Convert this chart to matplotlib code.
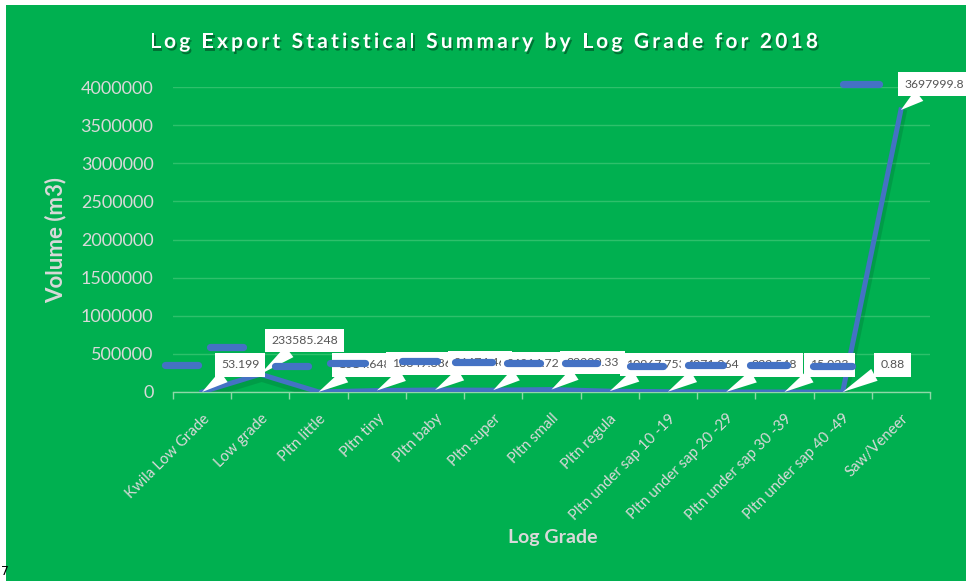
import matplotlib
matplotlib.use("Agg")
import matplotlib.pyplot as plt
import numpy as np
from matplotlib import patheffects, font_manager, ft2font
from matplotlib.lines import Line2D
from matplotlib.patches import Rectangle

# ---------------- data ----------------
categories = ["Kwila Low Grade", "Low grade", "Pltn little", "Pltn tiny", "Pltn baby",
              "Pltn super", "Pltn small", "Pltn regula", "Pltn under sap 10 -19",
              "Pltn under sap 20 -29", "Pltn under sap 30 -39", "Pltn under sap 40 -49",
              "Saw/Veneer"]
volumes = [53.199, 233585.248, 1014.648, 18849.886, 26474.46, 24014.72, 32290.33,
           10967.753, 4071.064, 932.548, 15.023, 0.88, 3697999.8]
label_texts = ["53.199", "233585.248", "1014.648", "18849.886", "26474.46", "24014.72",
               "32290.33", "10967.753", "4071.064", "932.548", "15.023", "0.88", "3697999.8"]
y_ticks = [0, 500000, 1000000, 1500000, 2000000, 2500000, 3000000, 3500000, 4000000]

title = "Log Export Statistical Summary by Log Grade for 2018"
x_title = "Log Grade"
y_title = "Volume (m3)"

# ---------------- style / layout ----------------
W, H, DPI = 966, 581, 100
GREEN = "#00B050"
BLUE = "#4472C4"
LIGHT = "#D9D9D9"
FONT = "Lato"

# label offsets (pixels, text centre relative to point)
label_offsets = [(38, 27), (44, 34), (46, 27), (45, 27), (45, 27), (40, 27), (41, 27),
                 (46, 27), (45, 27), (48, 27), (45, 27), (50, 27), (33, 26)]
# redaction dashes (figure pixels from top-left): x0, x1, y
dashes_px = [(165, 198, 365), (210, 243, 347), (275, 308, 366), (330, 365, 363),
             (402, 437, 361), (455, 492, 362), (507, 540, 363), (565, 597, 363),
             (630, 663, 366), (688, 723, 365), (750, 787, 365), (813, 852, 366),
             (843, 879, 84)]

plt.rcParams['font.family'] = [FONT, 'DejaVu Sans']

fig = plt.figure(figsize=(W / DPI, H / DPI), dpi=DPI, facecolor="white")
fig.patches.append(Rectangle((6 / W, 0), 1, 576 / H, transform=fig.transFigure,
                             facecolor=GREEN, edgecolor="none", zorder=-10))

ax = fig.add_axes([173 / W, 189 / H, (930 - 173) / W, 305 / H])
ax.set_facecolor("none")

x = np.arange(len(categories))
ax.plot(x, volumes, color=BLUE, lw=3.6, solid_joinstyle="miter", zorder=3,
        path_effects=[patheffects.SimpleLineShadow(offset=(1, -2.5), shadow_color="#003018",
                                                   alpha=0.15, linewidth=6),
                      patheffects.Normal()])

ax.set_xlim(-0.5, len(categories) - 0.5)
ax.set_ylim(0, 4000000)
ax.set_yticks(y_ticks)
ax.set_yticklabels([str(v) for v in y_ticks])
ax.yaxis.grid(True, color="#2EC06B", lw=1)
ax.set_axisbelow(True)
ax.tick_params(axis="y", length=0, pad=14, labelcolor=LIGHT, labelsize=13)

ax.set_xticks(x)
ax.set_xticklabels(categories, rotation=45, ha="right", va="top", rotation_mode="anchor")
ax.tick_params(axis="x", which="major", length=0, pad=14, labelcolor=LIGHT, labelsize=10.8)
ax.set_xticks(np.arange(-0.5, len(categories), 1.0), minor=True)
ax.tick_params(axis="x", which="minor", length=5, width=1, color="#8FD8A8", direction="out")

for s in ["left", "right", "top"]:
    ax.spines[s].set_visible(False)
ax.spines["bottom"].set_color("#8FD8A8")
ax.spines["bottom"].set_linewidth(1)

# data callouts
for i, (v, t, (dx, dy)) in enumerate(zip(volumes, label_texts, label_offsets)):
    ax.annotate(t, xy=(i, v), xytext=(dx, dy), textcoords="offset pixels",
                ha="center", va="center", fontsize=8.8, color="#555555",
                bbox=dict(boxstyle="square,pad=0.5", fc="white", ec="none"),
                arrowprops=dict(arrowstyle="wedge,tail_width=1.1,shrink_factor=0.5",
                                fc="white", ec="none", shrinkA=0, shrinkB=0),
                zorder=10 + i, annotation_clip=False)

# redaction dashes
for x0, x1, y in dashes_px:
    fig.add_artist(Line2D([x0 / W, x1 / W], [1 - y / H, 1 - y / H], transform=fig.transFigure,
                          color=BLUE, lw=5.2, solid_capstyle="round", zorder=50))

# axis titles
fig.text(553 / W, 1 - 537 / H, x_title, ha="center", va="center", fontsize=14,
         fontweight="bold", color=LIGHT)
fig.text(56 / W, 1 - 240 / H, y_title, ha="center", va="center", rotation=90, fontsize=16,
         fontweight="bold", color=LIGHT)

# letter-spaced title
tsize = 15
fp = font_manager.FontProperties(family=FONT, weight="bold")
ft = ft2font.FT2Font(font_manager.findfont(fp))
ft.set_size(tsize, DPI)
advs = []
for c in title:
    g = ft.load_char(ord(c))
    advs.append(g.linearHoriAdvance / 65536)
target_w = 818 - 150
spacing = (target_w - sum(advs)) / (len(title) - 1)
xpos = 150.0
shadow = [patheffects.withSimplePatchShadow(offset=(1.2, -1.8), shadow_rgbFace="black", alpha=0.35)]
for c, a in zip(title, advs):
    if c != " ":
        fig.text(xpos / W, 1 - 48 / H, c, ha="left", va="baseline", fontsize=tsize,
                 fontweight="bold", color="white", path_effects=shadow)
    xpos += a + spacing

# stray small character at bottom-left
fig.text(0.5 / W, 6 / H, "7", ha="left", va="baseline", fontsize=9, color="black",
         family="DejaVu Sans")

fig.savefig("out.png", dpi=DPI, facecolor="white")
